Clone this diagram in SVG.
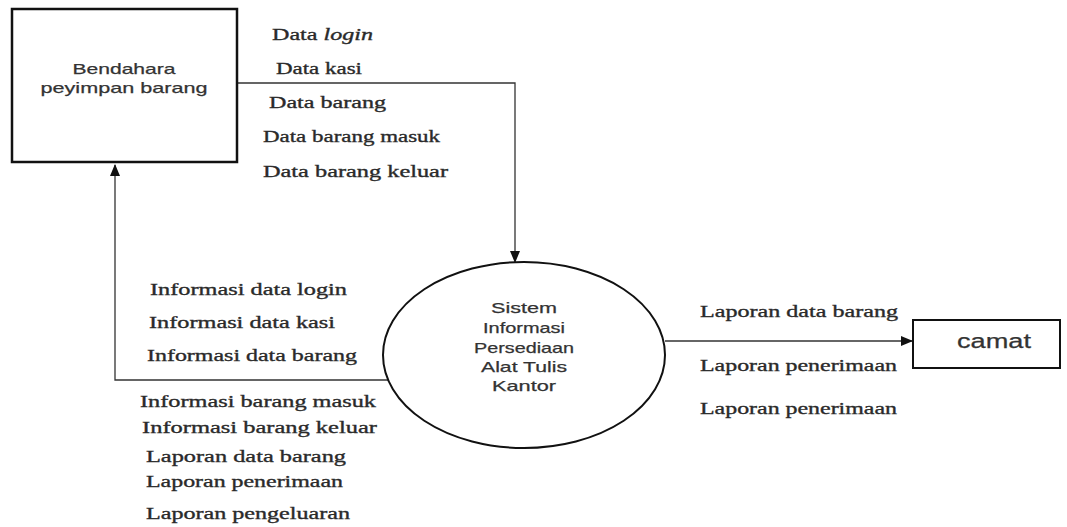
<svg xmlns="http://www.w3.org/2000/svg" width="1067" height="527" viewBox="0 0 1067 527">
<defs>
<style>
.box{fill:#fff;stroke:#111;stroke-width:2.5}
.conn{fill:none;stroke:#333;stroke-width:1.3}
.lbl{font-family:"Liberation Serif","Times New Roman",serif;font-size:17px;fill:#2a2a2a;stroke:#2a2a2a;stroke-width:0.35}
.nt{font-family:"Liberation Sans",Arial,sans-serif;font-size:15px;fill:#333;stroke:#333;stroke-width:0.25;text-anchor:middle}
.cam{font-size:20px}
</style>
<marker id="arr" markerWidth="12" markerHeight="10" refX="11" refY="5" orient="auto" markerUnits="userSpaceOnUse">
<path d="M0,0 L12,5 L0,10 Z" fill="#111"/>
</marker>
</defs>
<rect width="1067" height="527" fill="#fff"/>
<g id="connectors">
<polyline class="conn" points="237,83 515,83 515,262" marker-end="url(#arr)"/>
<polyline class="conn" points="400,380 115,380 115,165" marker-end="url(#arr)"/>
<line class="conn" x1="665" y1="341" x2="912" y2="341" marker-end="url(#arr)"/>
</g>
<g id="bendahara">
<rect class="box" x="12" y="9" width="225" height="153"/>
<text class="nt" x="124" y="74" textLength="103" lengthAdjust="spacingAndGlyphs">Bendahara</text>
<text class="nt" x="124" y="93" textLength="167" lengthAdjust="spacingAndGlyphs">peyimpan barang</text>
</g>
<g id="sistem">
<ellipse cx="524" cy="355" rx="141" ry="93" fill="#fff" stroke="#111" stroke-width="2"/>
<text class="nt" x="524" y="313" textLength="66" lengthAdjust="spacingAndGlyphs">Sistem</text>
<text class="nt" x="524" y="333" textLength="82" lengthAdjust="spacingAndGlyphs">Informasi</text>
<text class="nt" x="524" y="353" textLength="100" lengthAdjust="spacingAndGlyphs">Persediaan</text>
<text class="nt" x="524" y="372" textLength="86" lengthAdjust="spacingAndGlyphs">Alat Tulis</text>
<text class="nt" x="524" y="391" textLength="64" lengthAdjust="spacingAndGlyphs">Kantor</text>
</g>
<g id="camat">
<rect x="913" y="320" width="147" height="48" fill="#fff" stroke="#111" stroke-width="2"/>
<text class="nt cam" x="994" y="348" textLength="74" lengthAdjust="spacingAndGlyphs">camat</text>
</g>
<g id="labels">
<text class="lbl" x="272" y="40" textLength="101" lengthAdjust="spacingAndGlyphs">Data <tspan font-style="italic">login</tspan></text>
<text class="lbl" x="276" y="74" textLength="86" lengthAdjust="spacingAndGlyphs">Data kasi</text>
<text class="lbl" x="269" y="108" textLength="117" lengthAdjust="spacingAndGlyphs">Data barang</text>
<text class="lbl" x="263" y="142" textLength="177" lengthAdjust="spacingAndGlyphs">Data barang masuk</text>
<text class="lbl" x="263" y="177" textLength="185" lengthAdjust="spacingAndGlyphs">Data barang keluar</text>
<text class="lbl" x="150" y="295" textLength="197" lengthAdjust="spacingAndGlyphs">Informasi data login</text>
<text class="lbl" x="149" y="328" textLength="186" lengthAdjust="spacingAndGlyphs">Informasi data kasi</text>
<text class="lbl" x="147" y="361" textLength="210" lengthAdjust="spacingAndGlyphs">Informasi data barang</text>
<text class="lbl" x="140" y="407" textLength="236" lengthAdjust="spacingAndGlyphs">Informasi barang masuk</text>
<text class="lbl" x="142" y="433" textLength="235" lengthAdjust="spacingAndGlyphs">Informasi barang keluar</text>
<text class="lbl" x="146" y="462" textLength="200" lengthAdjust="spacingAndGlyphs">Laporan data barang</text>
<text class="lbl" x="146" y="487" textLength="197" lengthAdjust="spacingAndGlyphs">Laporan penerimaan</text>
<text class="lbl" x="146" y="519" textLength="204" lengthAdjust="spacingAndGlyphs">Laporan pengeluaran</text>
<text class="lbl" x="700" y="317" textLength="198" lengthAdjust="spacingAndGlyphs">Laporan data barang</text>
<text class="lbl" x="700" y="371" textLength="197" lengthAdjust="spacingAndGlyphs">Laporan penerimaan</text>
<text class="lbl" x="700" y="414" textLength="197" lengthAdjust="spacingAndGlyphs">Laporan penerimaan</text>
</g>
</svg>
